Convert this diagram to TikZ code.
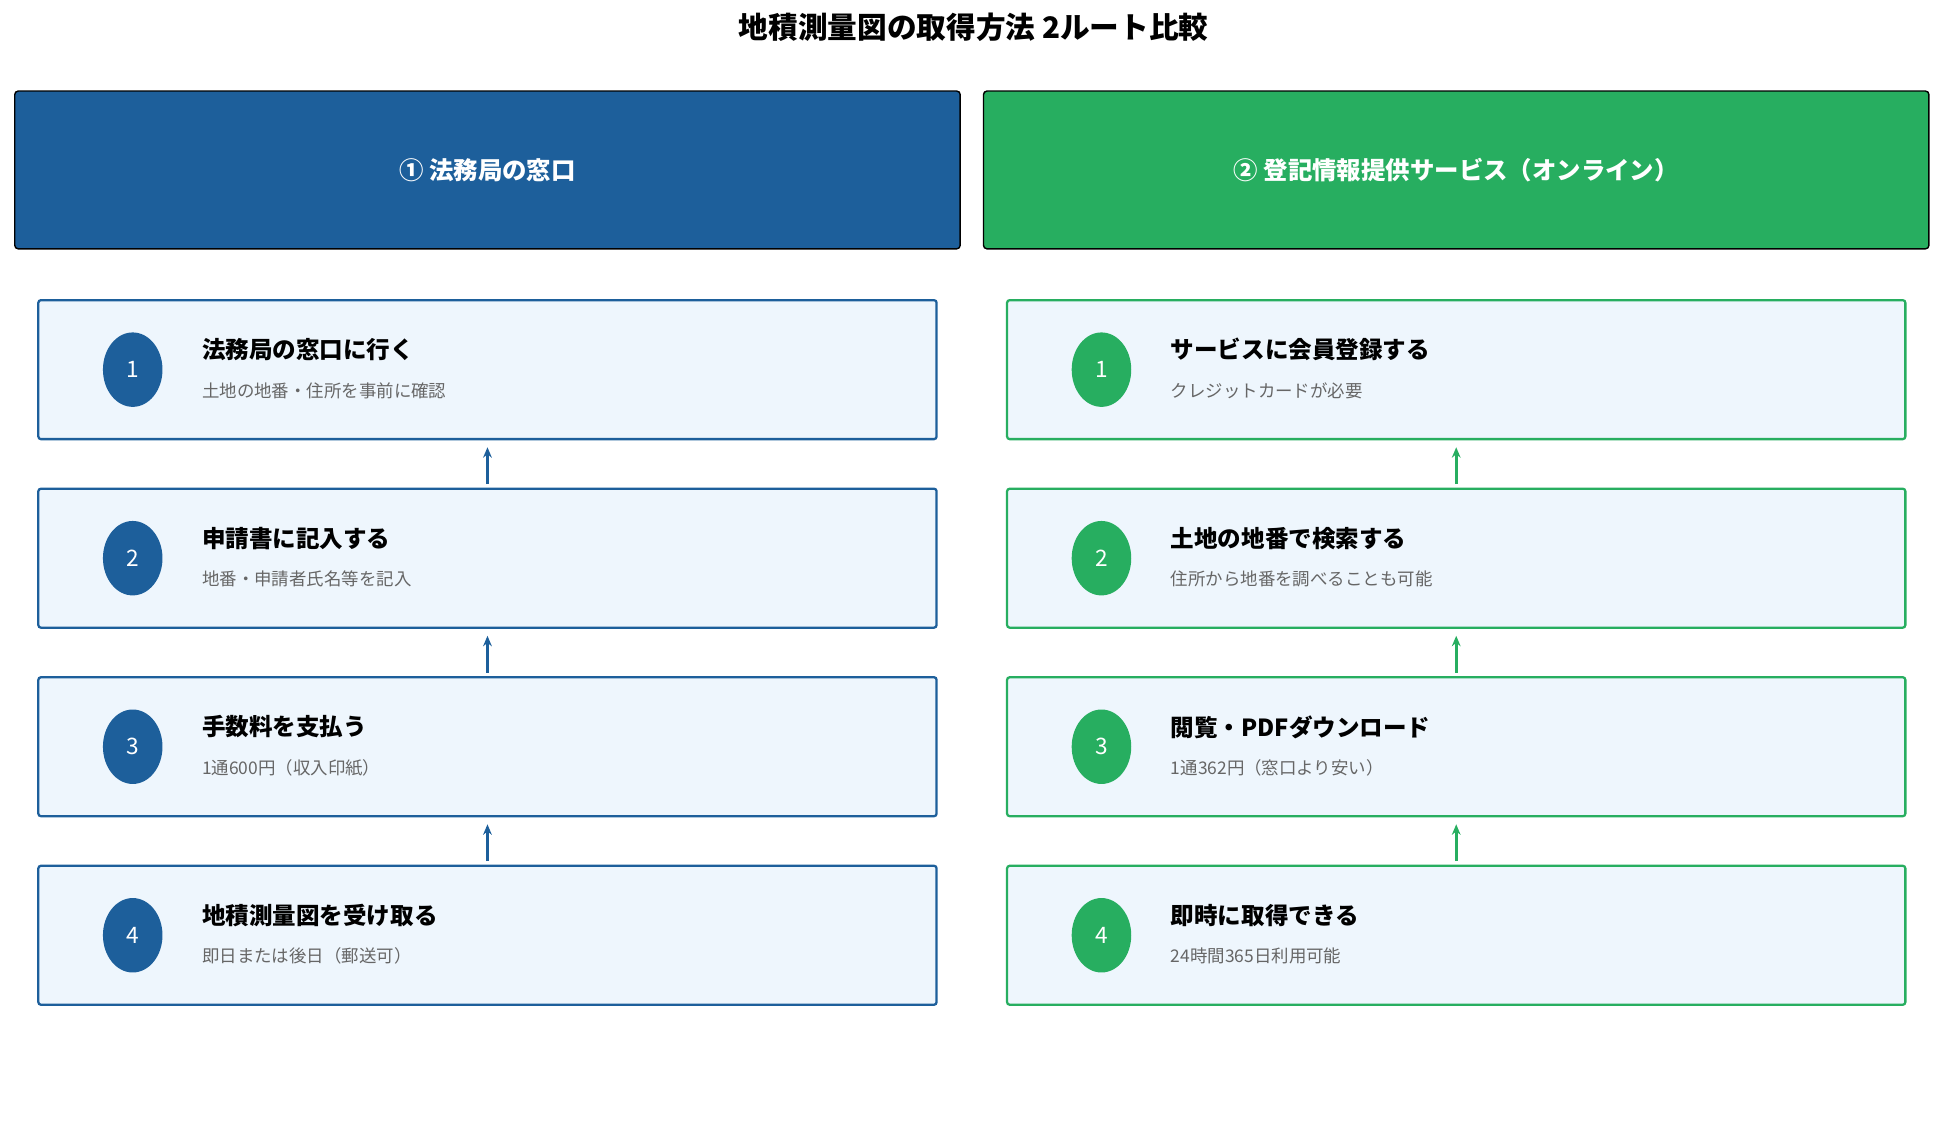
\documentclass[tikz,border=0pt]{standalone}
\usepackage{fontspec}
\setmainfont{Noto Sans CJK JP}
\usetikzlibrary{positioning,arrows.meta,shapes.geometric}
\definecolor{houmu}{HTML}{1D5F9B}
\definecolor{online}{HTML}{27AE60}
\definecolor{stepbg}{HTML}{EEF6FD}
\definecolor{subgray}{HTML}{666666}
\tikzset{
  head/.style={draw=black, line width=0.8pt, rounded corners=2pt, minimum width=19.05cm, minimum height=3.18cm, text=white, font=\fontsize{14}{16}\selectfont\bfseries},
  step/.style={draw=#1, line width=1.3pt, fill=stepbg, rounded corners=1.5pt, minimum width=18.1cm, minimum height=2.8cm},
  num/.style={ellipse, fill=#1, minimum width=1.2cm, minimum height=1.5cm, inner sep=0pt, text=white, font=\fontsize{13}{15}\selectfont},
  ttl/.style={anchor=west, font=\fontsize{13.5}{16}\selectfont\bfseries},
  sub/.style={anchor=west, text=subgray, font=\fontsize{10}{12}\selectfont},
  up/.style={draw=#1, line width=1.6pt, -{Stealth[length=6pt,width=5pt]}}
}
\begin{document}
\begin{tikzpicture}[x=0.025cm,y=-0.025cm]
  \useasboundingbox (0,0) rectangle (1560,904);
  \node (title) at (785,22) {\fontsize{17}{20}\selectfont\bfseries 地積測量図の取得方法 2ルート比較};
  \node[head, fill=houmu] (hl) at (393,137) {① 法務局の窓口};
  \node[head, fill=online] (hr) at (1174,137) {② 登記情報提供サービス（オンライン）};
  % left route
  \foreach \i/\y/\t/\s in {1/298/法務局の窓口に行く/土地の地番・住所を事前に確認,
      2/450/申請書に記入する/地番・申請者氏名等を記入,
      3/602/手数料を支払う/1通600円（収入印紙）,
      4/754/地積測量図を受け取る/即日または後日（郵送可）}{
    \node[step=houmu] (l\i) at (393,\y) {};
    \node[num=houmu] (ln\i) at (107,\y) {\i};
    \node[ttl] (lt\i) at (158,\y-16) {\t};
    \node[sub] (ls\i) at (158,\y+17) {\s};
  }
  % right route
  \foreach \i/\y/\t/\s in {1/298/サービスに会員登録する/クレジットカードが必要,
      2/450/土地の地番で検索する/住所から地番を調べることも可能,
      3/602/閲覧・PDFダウンロード/1通362円（窓口より安い）,
      4/754/即時に取得できる/24時間365日利用可能}{
    \node[step=online] (r\i) at (1174,\y) {};
    \node[num=online] (rn\i) at (888,\y) {\i};
    \node[ttl] (rt\i) at (939,\y-16) {\t};
    \node[sub] (rs\i) at (939,\y+17) {\s};
  }
  \foreach \a/\b in {2/1,3/2,4/3}{
    \draw[up=houmu] ([yshift=2pt]l\a.north) -- ([yshift=-4pt]l\b.south);
    \draw[up=online] ([yshift=2pt]r\a.north) -- ([yshift=-4pt]r\b.south);
  }
\end{tikzpicture}
\end{document}
